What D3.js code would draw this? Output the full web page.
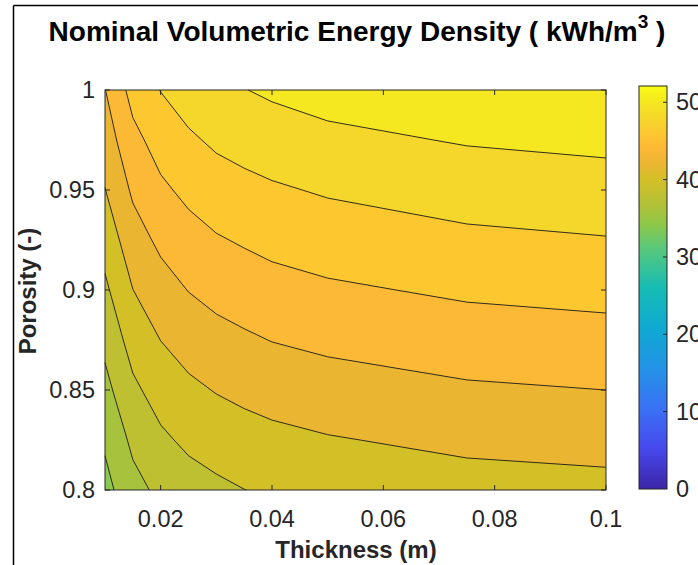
<!DOCTYPE html>
<html>
<head>
<meta charset="utf-8">
<script src="https://cdn.jsdelivr.net/npm/d3@7"></script>
<style>
body { margin: 0; background: #fff; }
text { font-family: "Liberation Sans", Arial, Helvetica, sans-serif; fill: #262626; }
</style>
</head>
<body>
<svg id="chart" width="698" height="565"></svg>
<script>
// grid
var thickness = [0.01, 0.015, 0.02, 0.025, 0.03, 0.035, 0.04, 0.05, 0.075, 0.1];
var porosity = [0.8, 0.825, 0.85, 0.875, 0.9, 0.925, 0.95, 0.975, 1.0];

// energy density (kWh/m3), one row per porosity, one value per thickness
var ed080  = [35.35, 37.35, 38.45, 39.15, 39.6, 39.98, 40.25, 40.6, 41.18, 41.4];
var ed0825 = [36.3, 38.42, 39.64, 40.39, 40.85, 41.22, 41.49, 41.86, 42.46, 42.72];
var ed085  = [37.4, 39.6, 40.83, 41.59, 42.1, 42.46, 42.77, 43.17, 43.74, 44.0];
var ed0875 = [38.5, 40.79, 42.02, 42.81, 43.35, 43.72, 44.05, 44.42, 45.03, 45.31];
var ed090  = [39.62, 41.98, 43.21, 44.05, 44.6, 44.96, 45.3, 45.7, 46.31, 46.59];
var ed0925 = [40.78, 43.14, 44.41, 45.25, 45.83, 46.2, 46.54, 46.96, 47.59, 47.9];
var ed095  = [41.95, 44.3, 45.63, 46.47, 47.08, 47.45, 47.76, 48.2, 48.87, 49.18];
var ed0975 = [42.98, 45.43, 46.82, 47.7, 48.33, 48.71, 49.03, 49.52, 50.15, 50.46];
var ed100  = [43.95, 46.7, 48.05, 48.93, 49.58, 49.95, 50.3, 50.78, 51.44, 51.8];

var levels = [34, 36, 38, 40, 42, 44, 46, 48, 50];
var xTicks = [0.02, 0.04, 0.06, 0.08, 0.1];
var yTicks = [0.8, 0.85, 0.9, 0.95, 1];
var cTicks = [0, 10, 20, 30, 40, 50];
var cMax = 52.1;

// parula-like colormap
var parulaPos = [0, 0.1, 0.2, 0.3, 0.4, 0.5, 0.6, 0.654, 0.692, 0.731, 0.769, 0.808, 0.846, 0.885, 0.923, 0.962, 1];
var parulaHex = ["#3e26a8", "#4748ec", "#3a72f5", "#2393e6", "#0fa9d2", "#17bcb4", "#5bc87a", "#8cc84a",
                 "#a8c23c", "#c0c030", "#d4bf26", "#ebb532", "#fdb935", "#fdc830", "#f4d82a", "#f5e81f", "#f9fb14"];

var rows = [ed080, ed0825, ed085, ed0875, ed090, ed0925, ed095, ed0975, ed100];
var nx = thickness.length, ny = porosity.length;
var values = [];
rows.forEach(function(r) { r.forEach(function(v) { values.push(v); }); });

var svg = d3.select("#chart");
var x = d3.scaleLinear().domain([0.01, 0.1]).range([105, 606]);
var y = d3.scaleLinear().domain([0.8, 1]).range([490, 90]);
var cScale = d3.scaleLinear().domain([0, cMax]).range([489, 86]);
var color = d3.scaleLinear()
    .domain(parulaPos.map(function(t) { return t * cMax; }))
    .range(parulaHex).clamp(true);

// frame of the figure
svg.append("line").attr("x1", 13.5).attr("y1", 5.5).attr("x2", 698).attr("y2", 5.5)
    .attr("stroke", "#000").attr("stroke-width", 1.5);
svg.append("line").attr("x1", 13.5).attr("y1", 5.5).attr("x2", 13.5).attr("y2", 565)
    .attr("stroke", "#000").attr("stroke-width", 1.5);

// grid index space -> pixels
function interp(arr, s) {
    var i = Math.floor(s);
    if (i >= arr.length - 1) return arr[arr.length - 1];
    return arr[i] + (s - i) * (arr[i + 1] - arr[i]);
}
function toPx(pt) {
    var sx = Math.max(0, Math.min(nx - 1, pt[0] - 0.5));
    var sy = Math.max(0, Math.min(ny - 1, pt[1] - 0.5));
    return { sx: sx, sy: sy, px: x(interp(thickness, sx)), py: y(interp(porosity, sy)) };
}

var contours = d3.contours().size([nx, ny]).thresholds(levels)(values);

var plot = svg.append("g");
plot.append("rect").attr("x", 105).attr("y", 90).attr("width", 501).attr("height", 400)
    .attr("fill", color(levels[0]));

// filled bands
plot.selectAll("path.band").data(contours).enter()
    .append("path")
    .attr("class", "band")
    .attr("fill", function(d) { return color(d.value); })
    .attr("fill-rule", "evenodd")
    .attr("d", function(d) {
        var s = "";
        d.coordinates.forEach(function(poly) {
            poly.forEach(function(ring) {
                ring.forEach(function(p, i) {
                    var q = toPx(p);
                    s += (i ? "L" : "M") + q.px.toFixed(2) + "," + q.py.toFixed(2);
                });
                s += "Z";
            });
        });
        return s;
    });

// contour lines (skip the parts that run along the box)
function onSameEdge(a, b) {
    return (a.sx === 0 && b.sx === 0) || (a.sx === nx - 1 && b.sx === nx - 1) ||
           (a.sy === 0 && b.sy === 0) || (a.sy === ny - 1 && b.sy === ny - 1);
}
plot.selectAll("path.iso").data(contours).enter()
    .append("path")
    .attr("class", "iso")
    .attr("fill", "none")
    .attr("stroke", "#1a1a1a")
    .attr("stroke-width", 0.9)
    .attr("d", function(d) {
        var s = "";
        d.coordinates.forEach(function(poly) {
            poly.forEach(function(ring) {
                var pts = ring.map(toPx), pen = false;
                for (var i = 1; i < pts.length; i++) {
                    var a = pts[i - 1], b = pts[i];
                    if (onSameEdge(a, b)) { pen = false; continue; }
                    if (!pen) s += "M" + a.px.toFixed(2) + "," + a.py.toFixed(2);
                    s += "L" + b.px.toFixed(2) + "," + b.py.toFixed(2);
                    pen = true;
                }
            });
        });
        return s;
    });

// axes box and ticks
var axisColor = "#262626";
svg.append("rect").attr("x", 105).attr("y", 90).attr("width", 501).attr("height", 400)
    .attr("fill", "none").attr("stroke", axisColor).attr("stroke-width", 1);
xTicks.forEach(function(t) {
    svg.append("line").attr("x1", x(t)).attr("x2", x(t)).attr("y1", 490).attr("y2", 485)
        .attr("stroke", axisColor);
    svg.append("line").attr("x1", x(t)).attr("x2", x(t)).attr("y1", 90).attr("y2", 95)
        .attr("stroke", axisColor);
    svg.append("text").attr("x", x(t)).attr("y", 527).attr("text-anchor", "middle")
        .attr("font-size", 23.5).text(t);
});
yTicks.forEach(function(t) {
    svg.append("line").attr("x1", 105).attr("x2", 110).attr("y1", y(t)).attr("y2", y(t))
        .attr("stroke", axisColor);
    svg.append("line").attr("x1", 606).attr("x2", 601).attr("y1", y(t)).attr("y2", y(t))
        .attr("stroke", axisColor);
    svg.append("text").attr("x", 95).attr("y", y(t)).attr("dy", "0.35em")
        .attr("text-anchor", "end").attr("font-size", 23.5).text(t);
});

// labels
svg.append("text").attr("x", 356).attr("y", 558).attr("text-anchor", "middle")
    .attr("font-size", 24).attr("font-weight", "bold").text("Thickness (m)");
svg.append("text").attr("transform", "translate(36,291) rotate(-90)")
    .attr("text-anchor", "middle").attr("font-size", 24).attr("font-weight", "bold")
    .text("Porosity (-)");
var title = svg.append("text").attr("x", 357).attr("y", 41).attr("text-anchor", "middle")
    .attr("font-size", 28).attr("font-weight", "bold").style("fill", "#000");
title.append("tspan").text("Nominal Volumetric Energy Density ( kWh/m");
title.append("tspan").attr("dy", -13).attr("font-size", 19).text("3");
title.append("tspan").attr("dy", 13).text(" )");

// colorbar
var defs = svg.append("defs");
var grad = defs.append("linearGradient").attr("id", "parula")
    .attr("x1", 0).attr("y1", 1).attr("x2", 0).attr("y2", 0);
parulaPos.forEach(function(t, i) {
    grad.append("stop").attr("offset", t).attr("stop-color", parulaHex[i]);
});
svg.append("rect").attr("x", 639).attr("y", 86).attr("width", 28).attr("height", 403)
    .attr("fill", "url(#parula)").attr("stroke", axisColor).attr("stroke-width", 1);
var cAxis = d3.axisRight(cScale).tickValues(cTicks).tickSize(0).tickPadding(9);
var cg = svg.append("g").attr("transform", "translate(667,0)").call(cAxis);
cg.select(".domain").remove();
cg.selectAll("text").attr("font-size", 23.5).attr("font-family", "Liberation Sans, Arial, sans-serif")
    .style("fill", axisColor);
cTicks.forEach(function(t) {
    if (t === 0) return;
    svg.append("line").attr("x1", 667).attr("x2", 663).attr("y1", cScale(t)).attr("y2", cScale(t))
        .attr("stroke", axisColor);
});
</script>
</body>
</html>
